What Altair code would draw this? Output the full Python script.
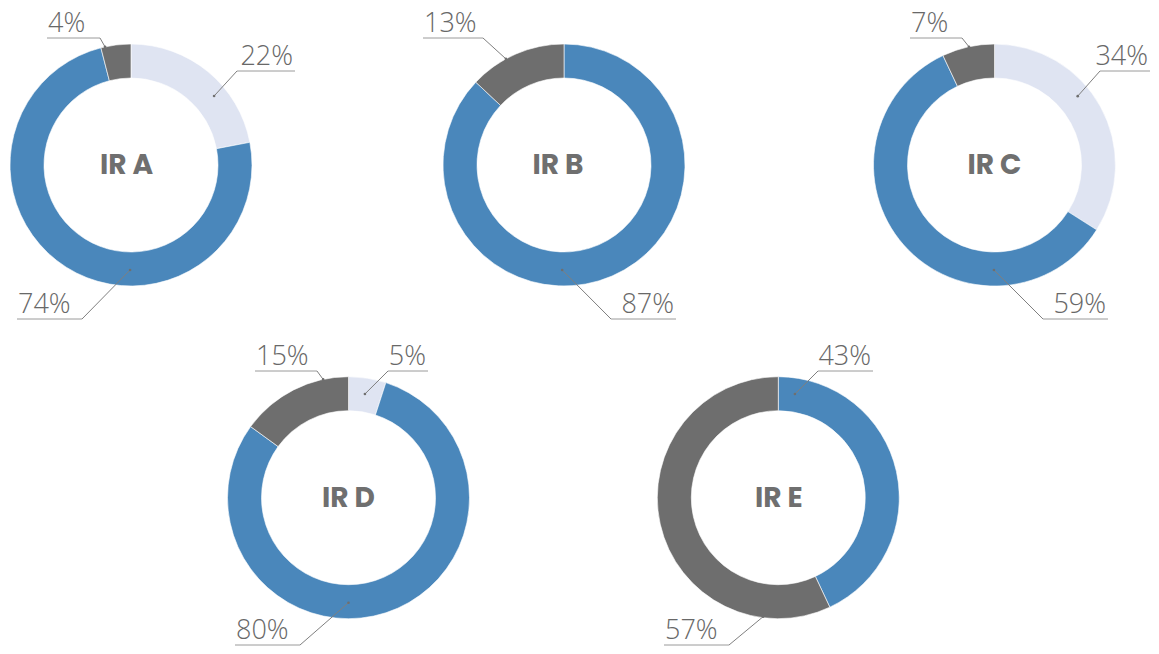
import math
import altair as alt
import pandas as pd

# ---------------- data ----------------
donuts = ["IR A", "IR B", "IR C", "IR D", "IR E"]
segments = ["Segment 1", "Segment 2", "Segment 3"]
seg1_values = [22, 0, 34, 5, 0]
seg2_values = [74, 87, 59, 80, 43]
seg3_values = [4, 13, 7, 15, 57]
segment_colors = ["#DFE4F2", "#4A87BB", "#6E6E6E"]

# ---------------- layout (page pixels) ----------------
W, H, M = 1143, 638, 8
R_OUT, R_IN = 121, 87
centers = {
    "IR A": (131, 165),
    "IR B": (564, 165),
    "IR C": (994.5, 165),
    "IR D": (348.5, 497.7),
    "IR E": (778.3, 497.7),
}
# horizontal offset of the title inside each ring
title_dx = {"IR A": -4.5, "IR B": -6, "IR C": 0, "IR D": 0, "IR E": 0.5}
# per label: side of the leader, underline x1, x2, y, anchor angle (deg, clockwise from top), anchor radius
label_layout = {
    ("IR A", "Segment 1"): ("right", 237, 295, 71, 50.3, 108),
    ("IR A", "Segment 2"): ("left", 17, 82, 319, 180.5, 105),
    ("IR A", "Segment 3"): ("left", 47, 100, 38, 347.6, 121),
    ("IR B", "Segment 2"): ("right", 611, 676, 319, 181, 105),
    ("IR B", "Segment 3"): ("left", 423, 483, 38, 331.3, 121),
    ("IR C", "Segment 1"): ("right", 1100, 1150, 71, 50.4, 108),
    ("IR C", "Segment 2"): ("right", 1043, 1108, 319, 180.3, 105),
    ("IR C", "Segment 3"): ("left", 910, 962, 38, 347.8, 121),
    ("IR D", "Segment 1"): ("right", 388, 428, 371, 9, 105),
    ("IR D", "Segment 2"): ("left", 235, 300, 645, 180, 105),
    ("IR D", "Segment 3"): ("left", 255, 317, 371, 347.9, 121),
    ("IR E", "Segment 2"): ("right", 818, 873, 371, 9.1, 105),
    ("IR E", "Segment 3"): ("left", 664, 729, 645, 187.3, 120),
}

# ---------------- build tables ----------------
arc_rows, lab_rows, ctr_rows = [], [], []
for i, d in enumerate(donuts):
    cx, cy = centers[d]
    ctr_rows.append({"donut": d, "x": cx + title_dx[d], "y": cy})
    start = 0
    for seg, vals in zip(segments, [seg1_values, seg2_values, seg3_values]):
        v = vals[i]
        if v <= 0:
            continue
        arc_rows.append({"donut": d, "segment": seg, "value": v,
                         "start": start, "end": start + v, "x": cx, "y": cy})
        start += v
        side, ux1, ux2, uy, ang, rr = label_layout[(d, seg)]
        ax = cx + rr * math.sin(math.radians(ang))
        ay = cy - rr * math.cos(math.radians(ang))
        if side == "right":
            tx, ex, align = ux2 - 2, ux1, "right"
        else:
            tx, ex, align = ux1 + 1, ux2, "left"
        lab_rows.append({"donut": d, "segment": seg, "label": f"{v}%",
                         "ux1": ux1, "ux2": ux2, "uy": uy, "ty": uy - 6,
                         "tx": tx, "align": align, "ex": ex, "ax": ax, "ay": ay})

arcs = pd.DataFrame(arc_rows)
labs = pd.DataFrame(lab_rows)
ctrs = pd.DataFrame(ctr_rows)

xs = alt.Scale(domain=[M, M + W], nice=False, zero=False)
ys = alt.Scale(domain=[M, M + H], nice=False, zero=False, reverse=True)

ring = alt.Chart(arcs).mark_arc(
    innerRadius=R_IN, outerRadius=R_OUT, stroke="white", strokeWidth=0.6
).encode(
    x=alt.X("x:Q", scale=xs, axis=None),
    y=alt.Y("y:Q", scale=ys, axis=None),
    theta=alt.Theta("start:Q", scale=alt.Scale(domain=[0, 100], range=[0, 2 * math.pi])),
    theta2="end:Q",
    color=alt.Color("segment:N", scale=alt.Scale(domain=segments, range=segment_colors), legend=None),
)

center_text = alt.Chart(ctrs).mark_text(
    font="Poppins, Montserrat, Lato, sans-serif", fontSize=28, fontWeight="bold",
    color="#6F6F6F", align="center", baseline="middle", dy=1
).encode(x=alt.X("x:Q", scale=xs), y=alt.Y("y:Q", scale=ys), text="donut:N")

underline = alt.Chart(labs).mark_rule(color="#9A9A9A", strokeWidth=1).encode(
    x=alt.X("ux1:Q", scale=xs), x2="ux2:Q", y=alt.Y("uy:Q", scale=ys)
)
leader = alt.Chart(labs).mark_rule(color="#7F7F7F", strokeWidth=1).encode(
    x=alt.X("ex:Q", scale=xs), x2="ax:Q", y=alt.Y("uy:Q", scale=ys), y2="ay:Q"
)
dots = alt.Chart(labs).mark_circle(size=7, color="#6F6F6F", opacity=1).encode(
    x=alt.X("ax:Q", scale=xs), y=alt.Y("ay:Q", scale=ys)
)

def label_layer(align):
    return alt.Chart(labs).transform_filter(alt.datum.align == align).mark_text(
        font="Open Sans", fontWeight=300, fontSize=27, color="#686868",
        align=align, baseline="alphabetic"
    ).encode(x=alt.X("tx:Q", scale=xs), y=alt.Y("ty:Q", scale=ys), text="label:N")

chart = alt.layer(
    ring, center_text, underline, leader, dots, label_layer("left"), label_layer("right")
).properties(
    width=W, height=H, padding=0, autosize=alt.AutoSizeParams(type="none")
).configure_view(stroke=None)

chart.save("out.html", embed_options={"renderer": "svg", "actions": False})
